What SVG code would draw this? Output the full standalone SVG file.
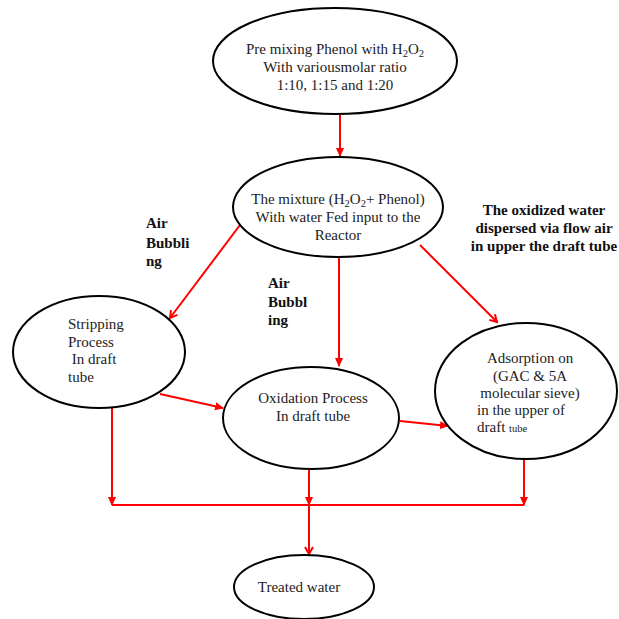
<svg xmlns="http://www.w3.org/2000/svg" width="619" height="619" viewBox="0 0 619 619">
<style>
.node ellipse{fill:#fff;stroke:#000;stroke-width:2}
.t{font-family:"Liberation Serif","Times New Roman",serif;font-size:15px;fill:#222}
.c{text-anchor:middle}
.b{font-family:"Liberation Serif","Times New Roman",serif;font-size:15px;font-weight:bold;fill:#111}
.sub{font-size:10.5px}
#connectors line,#connectors polyline{stroke:#f00;stroke-width:2;fill:none}
</style>
<defs>
<marker id="v" markerWidth="10" markerHeight="10" refX="8" refY="5" orient="auto" markerUnits="userSpaceOnUse">
<polyline points="1,1 8,5 1,9" fill="none" stroke="#f00" stroke-width="2"/>
</marker>
<marker id="f" markerWidth="10" markerHeight="10" refX="8" refY="5" orient="auto" markerUnits="userSpaceOnUse">
<polygon points="0,1 9,5 0,9" fill="#f00"/>
</marker>
</defs>
<rect width="619" height="619" fill="#fff"/>
<g id="connectors">
<line x1="340" y1="115" x2="340" y2="156" marker-end="url(#f)"/>
<line x1="240" y1="225" x2="170" y2="318" marker-end="url(#v)"/>
<line x1="339" y1="257" x2="339" y2="366" marker-end="url(#f)"/>
<line x1="420" y1="245" x2="497" y2="322" marker-end="url(#v)"/>
<line x1="160" y1="394" x2="223" y2="408" marker-end="url(#f)"/>
<line x1="400" y1="421" x2="448" y2="426" marker-end="url(#f)"/>
<line x1="112" y1="408" x2="112" y2="505" marker-end="url(#f)"/>
<line x1="309" y1="468" x2="309" y2="505" marker-end="url(#f)"/>
<line x1="524" y1="459" x2="524" y2="505" marker-end="url(#f)"/>
<line x1="112" y1="505" x2="524" y2="505"/>
<line x1="309" y1="505" x2="309" y2="554" marker-end="url(#v)"/>
</g>
<g id="premix" class="node">
<ellipse cx="335" cy="61" rx="122" ry="53"/>
<text class="t c" x="335" y="54">Pre mixing Phenol with H<tspan class="sub" dy="3">2</tspan><tspan dy="-3">O</tspan><tspan class="sub" dy="3">2</tspan></text>
<text class="t c" x="335" y="72">With variousmolar ratio</text>
<text class="t c" x="335" y="90">1:10, 1:15 and 1:20</text>
</g>
<g id="mixture" class="node">
<ellipse cx="338" cy="207" rx="105" ry="50"/>
<text class="t c" x="338" y="204">The mixture (H<tspan class="sub" dy="3">2</tspan><tspan dy="-3">O</tspan><tspan class="sub" dy="3">2</tspan><tspan dy="-3">+ Phenol)</tspan></text>
<text class="t c" x="338" y="222">With water Fed input to the</text>
<text class="t c" x="338" y="240">Reactor</text>
</g>
<g id="stripping" class="node">
<ellipse cx="99" cy="352" rx="86" ry="56"/>
<text class="t" x="68" y="329">Stripping</text>
<text class="t" x="68" y="347">Process</text>
<text class="t" x="68" y="364" xml:space="preserve"> In draft</text>
<text class="t" x="68" y="382">tube</text>
</g>
<g id="oxidation" class="node">
<ellipse cx="311" cy="418" rx="88" ry="51"/>
<text class="t c" x="313" y="403">Oxidation Process</text>
<text class="t c" x="313" y="421">In draft tube</text>
</g>
<g id="adsorption" class="node">
<ellipse cx="526" cy="391" rx="91" ry="68"/>
<text class="t c" x="530" y="363">Adsorption on</text>
<text class="t c" x="530" y="381">(GAC &amp; 5A</text>
<text class="t c" x="530" y="398">molecular sieve)</text>
<text class="t" x="477" y="415">in the upper of</text>
<text class="t" x="477" y="432">draft <tspan style="font-size:10.5px">tube</tspan></text>
</g>
<g id="treated" class="node">
<ellipse cx="304" cy="587" rx="70" ry="32"/>
<text class="t c" x="299" y="592">Treated water</text>
</g>
<g id="labels">
<text class="b" x="146" y="228">Air</text>
<text class="b" x="146" y="248">Bubbli</text>
<text class="b" x="146" y="266">ng</text>
<text class="b" x="268" y="288">Air</text>
<text class="b" x="268" y="307">Bubbl</text>
<text class="b" x="268" y="325">ing</text>
<text class="b c" x="544" y="215">The oxidized water</text>
<text class="b c" x="544" y="233">dispersed via flow air</text>
<text class="b c" x="544" y="251">in upper the draft tube</text>
</g>
</svg>
